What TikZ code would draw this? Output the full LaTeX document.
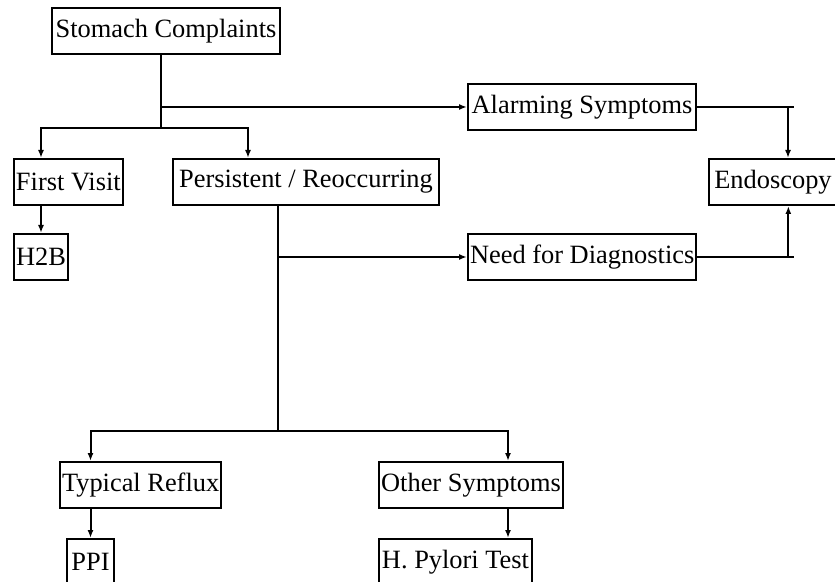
\documentclass[tikz,border=0pt]{standalone}
\usepackage{fontspec}
\setmainfont{Liberation Serif}
\usepackage{tikz}
\usetikzlibrary{positioning, calc, arrows.meta}

\begin{document}
\begin{tikzpicture}[x=0.5pt,y=-0.5pt,line width=1pt,
    box/.style={draw,anchor=north west,minimum height=23pt,inner xsep=1pt,inner ysep=0pt,
      font=\fontsize{13.2}{16}\selectfont},
    arr/.style={-{Latex[length=4pt,width=3pt]}}]
  \useasboundingbox (0,0) rectangle (835,582);
  \clip (0,0) rectangle (835,582);
  \node[box,minimum width=114pt] (stomach) at (51,7) {Stomach Complaints};
  \node[box,minimum width=53.5pt] (first) at (13,158) {First Visit};
  \node[box,minimum width=133pt] (persist) at (172,158) {Persistent / Reoccurring};
  \node[box,minimum width=27pt] (h2b) at (13,233) {H2B};
  \node[box,minimum width=114pt] (alarm) at (467,83) {Alarming Symptoms};
  \node[box,minimum width=114pt] (need) at (467,233) {Need for Diagnostics};
  \node[box,minimum width=72pt,align=left] (endo) at (708,158) {Endoscopy\hspace*{8pt}};
  \node[box,minimum width=80.5pt] (reflux) at (59,461) {Typical Reflux};
  \node[box,minimum width=92pt] (other) at (378,461) {Other Symptoms};
  \node[box,minimum width=23.5pt] (ppi) at (66,538) {PPI};
  \node[box,minimum width=76.5pt] (pylori) at (378,538) {H. Pylori Test};
  \coordinate (split) at (161,128);
  \coordinate (split2) at (278,431);
  \coordinate (alarmj) at ($(alarm.east)+(91,0)$);
  \coordinate (needj) at ($(need.east)+(91,0)$);
  \draw (stomach.south -| split) -- (split);
  \draw[arr] (stomach.south -| split) |- (alarm.west);
  \draw[arr] (split) -| (h2b |- first.north);
  \draw[arr] (split) -| ($(persist.north west)+(76,0)$);
  \draw[arr] (first.south -| h2b) -- (h2b.north);
  \draw (persist.south -| split2) -- (split2);
  \draw[arr] (persist.south -| split2) |- (need.west);
  \draw[arr] (split2) -| (ppi |- reflux.north);
  \draw[arr] (split2) -| ($(other.north west)+(130,0)$);
  \draw[arr] (reflux.south -| ppi) -- (ppi.north);
  \draw[arr] ($(other.south west)+(130,0)$) -- ($(pylori.north west)+(130,0)$);
  \draw (alarm.east) -- ++(97,0);
  \draw[arr] (alarmj) -- (alarmj |- endo.north);
  \draw (need.east) -- ++(97,0);
  \draw[arr] (needj) -- (needj |- endo.south);
\end{tikzpicture}
\end{document}
